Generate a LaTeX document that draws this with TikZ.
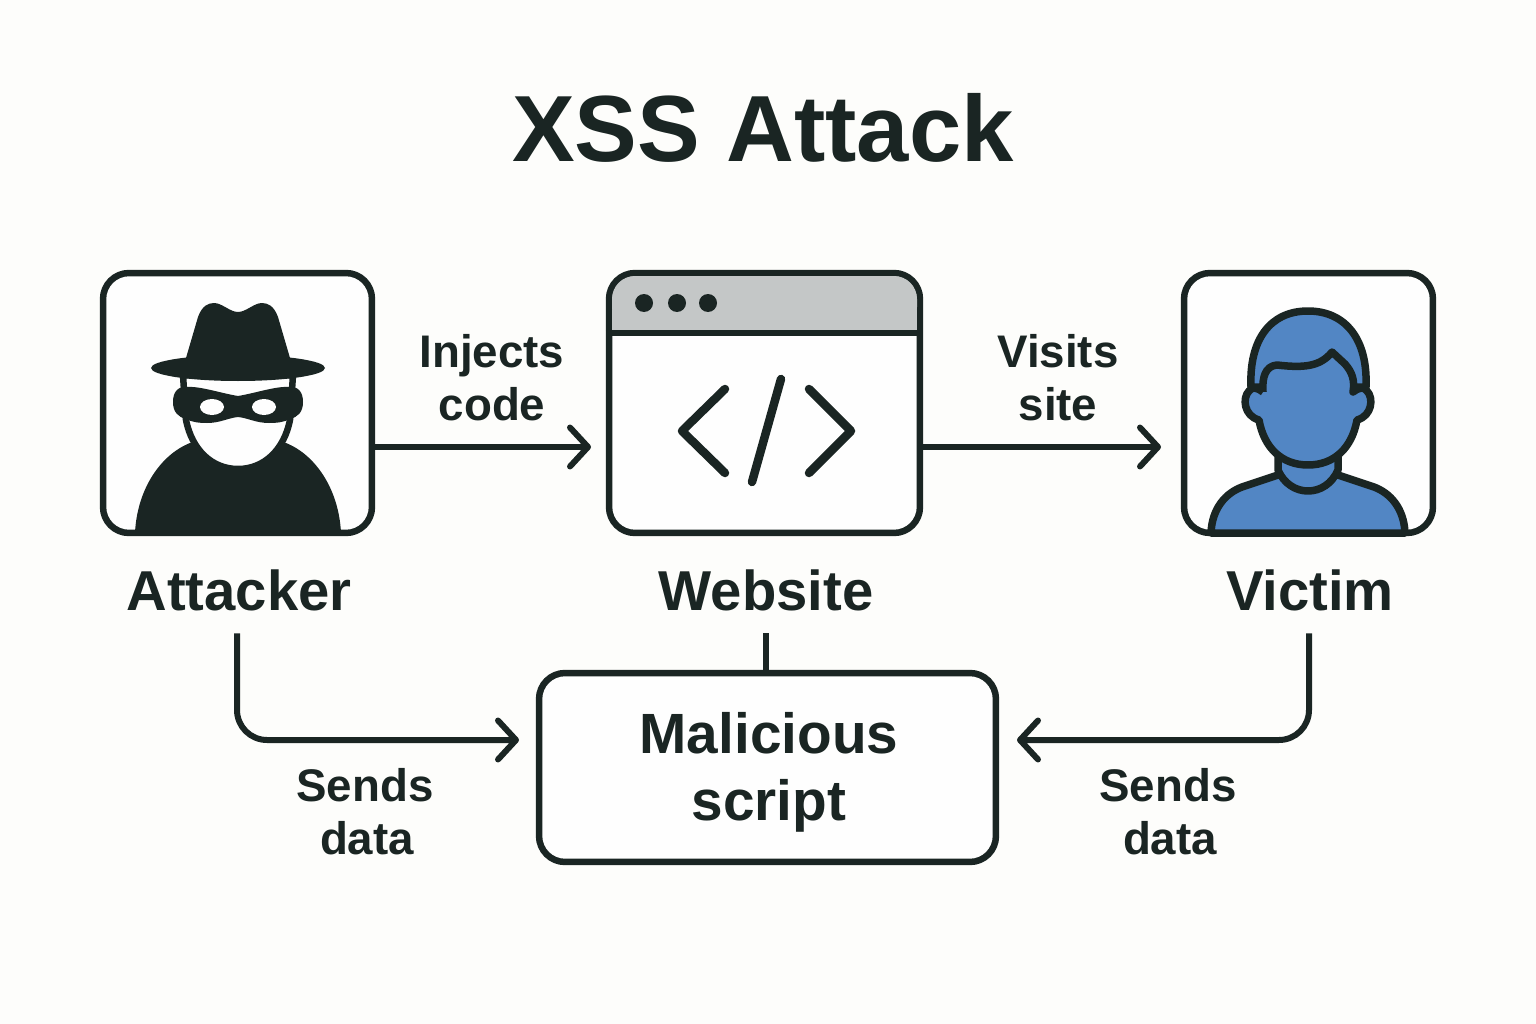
\documentclass[tikz,border=0pt]{standalone}
\usepackage{fontspec}
\setmainfont{Liberation Sans}
\usepackage{xcolor}
\usetikzlibrary{arrows.meta}
\definecolor{ink}{HTML}{1A2523}
\definecolor{paper}{HTML}{FDFDFB}
\definecolor{boxwhite}{HTML}{FEFEFE}
\definecolor{victimblue}{HTML}{5286C4}
\definecolor{bargrey}{HTML}{C4C7C7}
\tikzset{
	iconbox/.style={draw=ink,line width=0.13cm,fill=boxwhite,rounded corners=0.52cm,inner sep=0pt},
	flowline/.style={draw=ink,line width=0.12cm,rounded corners=0.6cm,-{Straight Barb[length=0.36cm,width=0.78cm,round]}},
	plainline/.style={draw=ink,line width=0.12cm},
	outline/.style={draw=ink,line width=0.15cm,fill=victimblue,line join=round},
	codeline/.style={draw=ink,line width=0.17cm,line cap=round,line join=round},
	biglabel/.style={text=ink,font=\bfseries\fontsize{32}{38}\selectfont,inner sep=0pt,text height=0.84cm,text depth=0pt,minimum height=1.72cm},
	smalllabel/.style={text=ink,font=\bfseries\fontsize{26}{30}\selectfont,inner sep=0pt,align=center}
}
\begin{document}
\begin{tikzpicture}[x=0.02cm,y=-0.02cm]
	\fill[paper] (0,0) rectangle (1536,1024);
	\useasboundingbox (0,0) rectangle (1536,1024);
	\node[text=ink,font=\bfseries\fontsize{53.5}{60}\selectfont,inner sep=0pt] (title) at (763,128) {XSS Attack};
	% the three boxes
	\node[iconbox,minimum width=5.38cm,minimum height=5.2cm] (attackerbox) at (237.5,403) {};
	\node[iconbox,minimum width=6.22cm,minimum height=5.2cm] (websitebox) at (764.5,403) {};
	\node[iconbox,minimum width=4.98cm,minimum height=5.2cm] (victimbox) at (1308.5,403) {};
	% attacker
	\fill[ink] (135,533) .. controls (137,490) and (160,455) .. (190,443) -- (286,443) .. controls (316,455) and (339,490) .. (341,533) -- cycle;
	\draw[line width=0.13cm,draw=ink,fill=boxwhite] (183,375) -- (186,420) .. controls (192,450) and (212,469) .. (238,469) .. controls (264,469) and (284,450) .. (290,420) -- (293,375) -- cycle;
	\fill[ink] (238,396) .. controls (220,393) and (200,386) .. (187,387) .. controls (177,386) and (173,393) .. (173,402) .. controls (173,412) and (178,417) .. (186,419) .. controls (192,422) and (198,423) .. (207,423) .. controls (220,423) and (228,418) .. (238,417) .. controls (248,418) and (256,423) .. (269,423) .. controls (278,423) and (284,422) .. (290,419) .. controls (298,417) and (303,412) .. (303,402) .. controls (303,393) and (299,386) .. (289,387) .. controls (276,386) and (256,393) .. (238,396) -- cycle;
	\fill[boxwhite] (212,407) ellipse (12 and 8);
	\fill[boxwhite] (264,407) ellipse (12 and 8);
	\fill[ink] (238,368) ellipse (87 and 13);
	\fill[ink] (186,358) -- (198,317) .. controls (202,306) and (208,303) .. (214,303) .. controls (222,303) and (230,312) .. (238,312) .. controls (246,312) and (254,303) .. (262,303) .. controls (268,303) and (274,306) .. (278,317) -- (290,358) -- cycle;
	% website
	\fill[bargrey,rounded corners=0.46cm] (612,330) -- (612,276) -- (917,276) -- (917,330) -- cycle;
	\fill[bargrey] (612,310) rectangle (917,330);
	\draw[plainline] (websitebox.west |- 0,333) -- (websitebox.east |- 0,333);
	\foreach \dotx in {644,677,708}
		\fill[ink] (\dotx,303) circle (9);
	\draw[codeline] (725,389) -- (682,431) -- (725,473);
	\draw[codeline] (781,379) -- (752,482);
	\draw[codeline] (809,389) -- (851,431) -- (809,473);
	% victim
	\draw[outline] (1211,533) .. controls (1212,508) and (1226,493) .. (1242,487) -- (1278,475) -- (1338,475) -- (1374,487) .. controls (1390,493) and (1404,508) .. (1405,533) -- cycle;
	\draw[outline] (1278,450) -- (1278,470) .. controls (1284,484) and (1296,491) .. (1308,491) .. controls (1320,491) and (1332,484) .. (1338,470) -- (1338,450);
	\draw[outline] (1251,387) .. controls (1249,340) and (1270,311) .. (1308,311) .. controls (1346,311) and (1368,340) .. (1366,387) -- cycle;
	\draw[outline] (1263,392) .. controls (1258,388) and (1252,386) .. (1249,391) .. controls (1242,398) and (1244,416) .. (1259,420) .. controls (1264,448) and (1282,465) .. (1308,465) .. controls (1334,465) and (1352,448) .. (1357,420) .. controls (1372,416) and (1374,398) .. (1367,391) .. controls (1364,386) and (1358,388) .. (1353,392) .. controls (1355,380) and (1352,372) .. (1345,364) -- (1332,352) .. controls (1320,367) and (1303,368) .. (1277,365) .. controls (1265,366) and (1262,378) .. (1263,392);
	% labels
	\node[biglabel] (attackerlabel) at (239,590) {Attacker};
	\node[biglabel] (websitelabel) at (766,590) {Website};
	\node[biglabel] (victimlabel) at (1310,590) {Victim};
	\node[iconbox,minimum width=9.14cm,minimum height=3.78cm] (scriptbox) at (767.5,767.5) {};
	\node[text=ink,font=\bfseries\fontsize{32.3}{38}\selectfont,align=center,inner sep=0pt] (scripttext) at (769,772.5) {Malicious\\script};
	\node[smalllabel] (injectslabel) at (492,378) {Injects\\code};
	\node[smalllabel] (visitslabel) at (1058,378) {Visits\\site};
	\node[smalllabel] (sendsleft) at (365,812) {Sends\\\hspace{0.08cm}data};
	\node[smalllabel] (sendsright) at (1168,812) {Sends\\\hspace{0.08cm}data};
	% connectors
	\coordinate (injectsend) at (591,447);
	\coordinate (visitsend) at (1161,447);
	\coordinate (attackerend) at (519,740);
	\coordinate (victimend) at (1017,740);
	\draw[flowline] (attackerbox.east |- injectsend) -- (injectsend);
	\draw[flowline] (websitebox.east |- visitsend) -- (visitsend);
	\draw[flowline] (attackerlabel.south -| 237,0) |- (attackerend);
	\draw[flowline] (victimlabel.south -| 1309,0) |- (victimend);
	\draw[plainline] (websitelabel.south) -- (scriptbox.north -| websitelabel.south);
\end{tikzpicture}
\end{document}
